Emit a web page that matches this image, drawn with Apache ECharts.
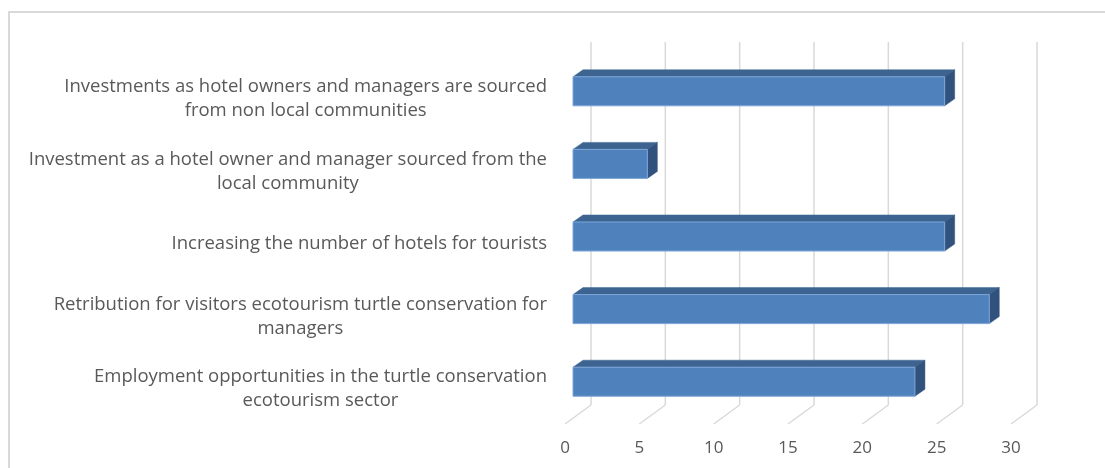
<!DOCTYPE html>
<html>
<head>
<meta charset="utf-8">
<style>
  html, body { margin: 0; padding: 0; background: #ffffff; }
  #chart { width: 1105px; height: 468px; }
</style>
<script src="https://cdn.jsdelivr.net/npm/echarts@6/dist/echarts.min.js"></script>
</head>
<body>
<div id="chart"></div>
<script>
// Categories, bottom to top (category axis runs upward); "\n" marks the wrap point.
const categories = [
  'Employment opportunities in the turtle conservation\necotourism sector',
  'Retribution for visitors ecotourism turtle conservation for\nmanagers',
  'Increasing the number of hotels for tourists',
  'Investment as a hotel owner and manager sourced from the\nlocal community',
  'Investments as hotel owners and managers are sourced\nfrom non local communities'
];
const values = [23, 28, 25, 5, 25];
const xTicks = [0, 5, 10, 15, 20, 25, 30];

// Oblique depth offsets (px) between the planes of the 3D box
const BAR_DEPTH = [10, -7];   // thickness of each bar
const WALL_SHIFT = [18, -13]; // back wall relative to the bar front plane
const FLOOR_FRONT = [-8, 6];  // front floor edge relative to the bar front plane

const FONT = '"Open Sans", sans-serif';
const TEXT_COLOR = '#595959';

const chart = echarts.init(document.getElementById('chart'), null, { renderer: 'canvas' });

function wallItem(params, api) {
  const v = api.value(0);
  const x = api.coord([v, 0])[0];
  const cs = params.coordSys;
  const top = cs.y + WALL_SHIFT[1];
  const bottom = cs.y + cs.height + WALL_SHIFT[1];
  const xb = x + WALL_SHIFT[0];
  const style = { stroke: '#d9d9d9', lineWidth: 1.5, fill: null };
  return {
    type: 'group',
    children: [
      { type: 'line', shape: { x1: xb, y1: top, x2: xb, y2: bottom }, style },
      { type: 'line', shape: { x1: xb, y1: bottom, x2: x + FLOOR_FRONT[0], y2: cs.y + cs.height + FLOOR_FRONT[1] }, style }
    ]
  };
}

function barItem(params, api) {
  const idx = api.value(0);
  const val = api.value(1);
  const p0 = api.coord([0, idx]);
  const p1 = api.coord([val, idx]);
  const h = api.size([0, 1])[1] * 0.4;
  const x0 = p0[0], x1 = p1[0];
  const y0 = p0[1] - h / 2, y1 = y0 + h;
  const dx = BAR_DEPTH[0], dy = BAR_DEPTH[1];
  return {
    type: 'group',
    children: [
      {
        type: 'polygon',
        shape: { points: [[x0, y0], [x1, y0], [x1 + dx, y0 + dy], [x0 + dx, y0 + dy]] },
        style: { fill: '#3d6491', stroke: '#3d6491', lineWidth: 0.5 }
      },
      {
        type: 'polygon',
        shape: { points: [[x1, y0], [x1 + dx, y0 + dy], [x1 + dx, y1 + dy], [x1, y1]] },
        style: { fill: '#30527d', stroke: '#30527d', lineWidth: 0.5 }
      },
      {
        type: 'rect',
        shape: { x: x0, y: y0, width: x1 - x0, height: h },
        style: { fill: '#4f81bd', stroke: '#7ea6d8', lineWidth: 1 }
      }
    ]
  };
}

chart.setOption({
  animation: false,
  backgroundColor: '#ffffff',
  graphic: [
    {
      type: 'rect',
      shape: { x: 9, y: 12, width: 1200, height: 600 },
      style: { fill: null, stroke: '#d9d9d9', lineWidth: 2 },
      silent: true
    }
  ],
  grid: [
    // plane of the bar front faces
    { left: 573, right: 86, top: 55, bottom: 50 },
    // front plane of the box, carrying the axis labels
    { left: 565, right: 94, top: 62.5, bottom: 43 }
  ],
  xAxis: [
    {
      gridIndex: 0, type: 'value', min: 0, max: 30, interval: 5,
      axisLine: { show: false }, axisTick: { show: false },
      axisLabel: { show: false }, splitLine: { show: false }
    },
    {
      gridIndex: 1, type: 'value', min: 0, max: 30, interval: 5,
      axisLine: { show: false }, axisTick: { show: false },
      splitLine: { show: false },
      axisLabel: { color: TEXT_COLOR, fontFamily: FONT, fontSize: 17, margin: 15 }
    }
  ],
  yAxis: [
    {
      gridIndex: 0, type: 'category', data: categories,
      axisLine: { show: false }, axisTick: { show: false },
      axisLabel: { show: false }, splitLine: { show: false }
    },
    {
      gridIndex: 1, type: 'category', data: categories,
      axisLine: { show: false }, axisTick: { show: false }, splitLine: { show: false },
      axisLabel: {
        margin: 18,
        color: TEXT_COLOR,
        fontFamily: FONT,
        fontSize: 18.5,
        lineHeight: 24,
        formatter: (name) => name.split('\n').map((line) => '{c|' + line + '}').join('\n'),
        rich: {
          c: { align: 'center', color: TEXT_COLOR, fontFamily: FONT, fontSize: 18.5, lineHeight: 24 }
        }
      }
    }
  ],
  series: [
    {
      name: 'wall',
      type: 'custom',
      xAxisIndex: 0, yAxisIndex: 0,
      renderItem: wallItem,
      data: xTicks.map((t) => [t]),
      encode: { x: 0 },
      silent: true,
      z: 1
    },
    {
      name: 'bars',
      type: 'custom',
      xAxisIndex: 0, yAxisIndex: 0,
      renderItem: barItem,
      data: values.map((v, i) => [i, v]),
      encode: { y: 0, x: 1 },
      z: 2
    }
  ]
});
</script>
</body>
</html>
